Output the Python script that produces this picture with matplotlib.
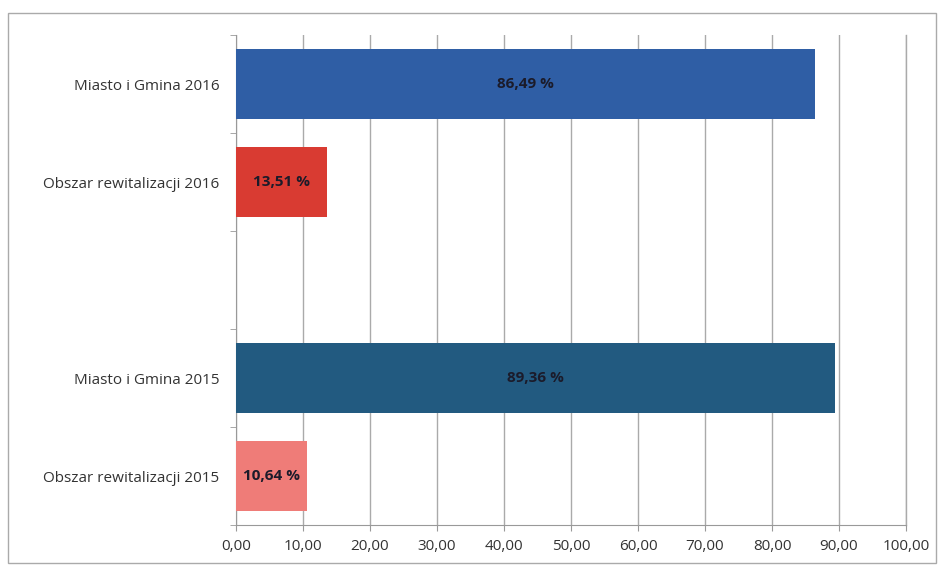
import matplotlib.pyplot as plt
from matplotlib.patches import Rectangle

# data, top to bottom (empty slot between the two years)
labels = ['Miasto i Gmina 2016', 'Obszar rewitalizacji 2016', '',
          'Miasto i Gmina 2015', 'Obszar rewitalizacji 2015']
values = [86.49, 13.51, None, 89.36, 10.64]
colors = ['#2f5ea5', '#d93b32', None, '#225a80', '#ef7c78']
xticks = [0, 10, 20, 30, 40, 50, 60, 70, 80, 90, 100]

plt.rcParams['font.family'] = ['Open Sans', 'DejaVu Sans']

W, H = 939, 565
fig = plt.figure(figsize=(W / 100, H / 100), dpi=100)
ax = fig.add_axes([236 / W, 1 - 525 / H, (906 - 236) / W, (525 - 35) / H])

ypos = list(range(len(labels)))
for y, v, c in zip(ypos, values, colors):
    if v is None:
        continue
    ax.barh(y, v, height=0.72, color=c, zorder=3)
    txt = f'{v:.2f}'.replace('.', ',') + ' %'
    ax.text(v / 2, y, txt, ha='center', va='center', fontsize=11,
            fontweight='bold', color='#1b1b2a', zorder=4)

ax.set_xlim(0, 100)
ax.set_ylim(len(labels) - 0.5, -0.5)
ax.set_xticks(xticks)
ax.set_xticklabels([f'{t:.2f}'.replace('.', ',') for t in xticks],
                   fontsize=11, color='#333333')
ax.set_yticks(ypos)
ax.set_yticklabels(labels, fontsize=11, color='#333333')
ax.set_yticks([i - 0.5 for i in range(len(labels) + 1)], minor=True)
ax.tick_params(axis='y', which='major', length=0, pad=12)
ax.tick_params(axis='y', which='minor', length=4, color='#999999')
ax.tick_params(axis='x', length=4, color='#999999', pad=6)
ax.grid(axis='x', color='#aaaaaa', linewidth=1, zorder=0)
ax.axvline(100, color='#aaaaaa', linewidth=1, clip_on=False, zorder=0)
for s in ['top', 'right']:
    ax.spines[s].set_visible(False)
ax.spines['left'].set_color('#999999')
ax.spines['bottom'].set_color('#999999')

# outer chart border
fig.add_artist(Rectangle((8 / W, 1 - 563 / H), (936 - 8) / W, (563 - 13) / H,
                         transform=fig.transFigure, fill=False,
                         edgecolor='#aaaaaa', linewidth=1))

fig.savefig('out.png', dpi=100)
